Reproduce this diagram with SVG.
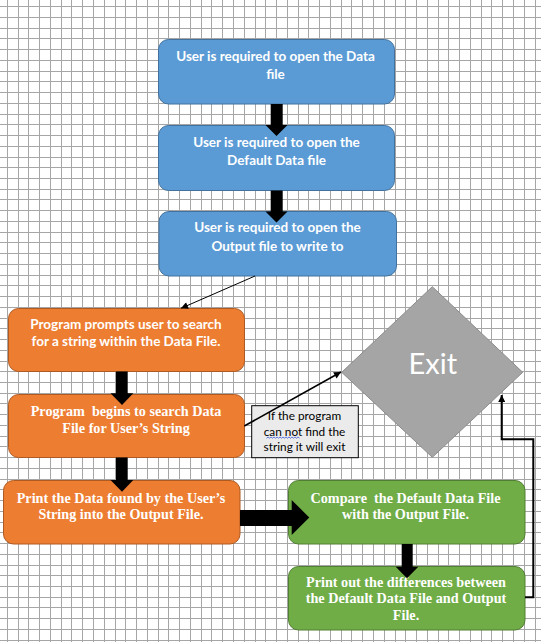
<svg xmlns="http://www.w3.org/2000/svg" width="541" height="642" viewBox="0 0 541 642">
<style>
.grid{stroke:#a6a6a6;stroke-width:1;fill:none;shape-rendering:crispEdges}
.blue{fill:#5b9bd5;stroke:#41719c;stroke-width:1}
.orange{fill:#ed7d31;stroke:#ae5a21;stroke-width:1}
.green{fill:#70ad47;stroke:#507e32;stroke-width:1}
.cal{font-family:Lato,"Liberation Sans",sans-serif;font-weight:bold;fill:#fff;text-anchor:middle;font-size:13.5px}
.tnr{font-family:"Liberation Serif","Times New Roman",serif;font-weight:bold;fill:#fff;text-anchor:middle;font-size:14.2px}
.note{font-family:Lato,"Liberation Sans",sans-serif;fill:#000;text-anchor:middle;font-size:11.8px}
.big{fill:#000;stroke:none}
.thin{stroke:#000;fill:none}
</style>
<defs>
<marker id="ah" viewBox="0 0 10 10" refX="10" refY="5" markerUnits="userSpaceOnUse" markerWidth="9" markerHeight="7" orient="auto">
<path d="M0 0L10 5L0 10z" fill="#000"/>
</marker>
</defs>
<rect width="541" height="642" fill="#fff"/>
<path class="grid" d="M7.3 0V642M18.07 0V642M28.84 0V642M39.61 0V642M50.38 0V642M61.15 0V642M71.92 0V642M82.69 0V642M93.46 0V642M104.23 0V642M115 0V642M125.77 0V642M136.54 0V642M147.31 0V642M158.08 0V642M168.85 0V642M179.62 0V642M190.39 0V642M201.16 0V642M211.93 0V642M222.7 0V642M233.47 0V642M244.24 0V642M255.01 0V642M265.78 0V642M276.55 0V642M287.32 0V642M298.09 0V642M308.86 0V642M319.63 0V642M330.4 0V642M341.17 0V642M351.94 0V642M362.71 0V642M373.48 0V642M384.25 0V642M395.02 0V642M405.79 0V642M416.56 0V642M427.33 0V642M438.1 0V642M448.87 0V642M459.64 0V642M470.41 0V642M481.18 0V642M491.95 0V642M502.72 0V642M513.49 0V642M524.26 0V642M535.03 0V642
M0 6.7H541M0 17.44H541M0 28.17H541M0 38.91H541M0 49.65H541M0 60.39H541M0 71.12H541M0 81.86H541M0 92.6H541M0 103.33H541M0 114.07H541M0 124.81H541M0 135.54H541M0 146.28H541M0 157.02H541M0 167.76H541M0 178.49H541M0 189.23H541M0 199.97H541M0 210.7H541M0 221.44H541M0 232.18H541M0 242.91H541M0 253.65H541M0 264.39H541M0 275.13H541M0 285.86H541M0 296.6H541M0 307.34H541M0 318.07H541M0 328.81H541M0 339.55H541M0 350.28H541M0 361.02H541M0 371.76H541M0 382.5H541M0 393.23H541M0 403.97H541M0 414.71H541M0 425.44H541M0 436.18H541M0 446.92H541M0 457.65H541M0 468.39H541M0 479.13H541M0 489.87H541M0 500.6H541M0 511.34H541M0 522.08H541M0 532.81H541M0 543.55H541M0 554.29H541M0 565.02H541M0 575.76H541M0 586.5H541M0 597.24H541M0 607.97H541M0 618.71H541M0 629.45H541M0 640.18H541"/>

<g id="n1">
<rect class="blue" x="158.5" y="39.5" width="236" height="64.5" rx="10"/>
<text class="cal" x="275.5" y="60.7">User is required to open the Data</text>
<text class="cal" x="275.5" y="79">file</text>
</g>
<g id="n2">
<rect class="blue" x="158.5" y="125.5" width="236" height="65" rx="10"/>
<text class="cal" x="276.5" y="146.7">User is required to open the</text>
<text class="cal" x="276.5" y="165">Default Data file</text>
</g>
<g id="n3">
<rect class="blue" x="159" y="211.5" width="237.5" height="64.5" rx="10"/>
<text class="cal" x="277.5" y="232.3">User is required to open the</text>
<text class="cal" x="277.5" y="251">Output file to write to</text>
</g>
<g id="n4">
<rect class="orange" x="8.5" y="308.5" width="236" height="63" rx="10"/>
<text class="cal" x="126" y="329.3">Program prompts user to search</text>
<text class="cal" x="126" y="346">for a string within the Data File.</text>
</g>
<g id="n5">
<rect class="orange" x="8.5" y="394.5" width="236" height="63" rx="10"/>
<text class="tnr" x="126" y="416" xml:space="preserve">Program  begins to search Data</text>
<text class="tnr" x="126" y="432.7">File for User’s String</text>
</g>
<g id="n6">
<rect class="orange" x="3.5" y="480.5" width="236.5" height="63.5" rx="10"/>
<text class="tnr" x="121" y="502.7">Print the Data found by the User’s</text>
<text class="tnr" x="121" y="519.3">String into the Output File.</text>
</g>
<g id="n7">
<rect class="green" x="288.5" y="480.5" width="236.5" height="63.5" rx="10"/>
<text class="tnr" x="405.5" y="502.7" xml:space="preserve">Compare  the Default Data File</text>
<text class="tnr" x="405.5" y="519.3">with the Output File.</text>
</g>
<g id="n8">
<rect class="green" x="288.5" y="566.5" width="236.5" height="63.5" rx="10"/>
<text class="tnr" x="406" y="586.7">Print out the differences between</text>
<text class="tnr" x="406" y="603.3">the Default Data File and Output</text>
<text class="tnr" x="406" y="620">File.</text>
</g>
<g id="exit">
<path d="M432.3 286.7L522.7 372.3L432.3 457.3L341.7 372.3z" fill="#a5a5a5" stroke="#8c8c8c" stroke-width="1"/>
<text x="432.8" y="374.3" font-family="Lato,'Liberation Sans',sans-serif" font-size="29" fill="#fff" text-anchor="middle">Exit</text>
</g>
<g id="note">
<rect x="251.7" y="405.7" width="106.6" height="52" fill="#ebebeb" stroke="#000" stroke-width="1"/>
<text class="note" x="304.5" y="420">If the program</text>
<text class="note" x="304.5" y="435.7">can not find the</text>
<text class="note" x="304.5" y="450.7">string it will exit</text>
<path d="M266.5 438.2l1.5-1.2l1.5 1.2l1.5-1.2l1.5 1.2l1.5-1.2l1.5 1.2l1.5-1.2l1.5 1.2l1.5-1.2l1.5 1.2l1.5-1.2l1.5 1.2l1.5-1.2l1.5 1.2l1.5-1.2l1.5 1.2l1.5-1.2l1.5 1.2l1.5-1.2l1.5 1.2l1.5-1.2l1.5 1.2" fill="none" stroke="#3b55d6" stroke-width="0.8"/>
</g>
<g id="connectors">
<path class="big" d="M270.7 104H282.7V125H287.5L276.5 136L265.5 125H270.7z"/>
<path class="big" d="M270.7 190.5H282.7V211.5H287.5L276.5 222.5L265.5 211.5H270.7z"/>
<path class="big" d="M116 371.5H127.7V393.3H133.3L122 405L110.5 393.3H116z"/>
<path class="big" d="M116 457.5H127.7V480H133.3L122 491.7L110.5 480H116z"/>
<path class="big" d="M240 510H291.7V500L309.3 517.5L291.7 535V526H240z"/>
<path class="big" d="M401.7 544H412.7V566.7H418.3L407 578.3L395.7 566.7H401.7z"/>
<line class="thin" x1="255" y1="276" x2="181" y2="308.3" stroke-width="1" marker-end="url(#ah)"/>
<line class="thin" x1="244.3" y1="426" x2="341" y2="372" stroke-width="1.6" marker-end="url(#ah)"/>
<path class="thin" d="M525 597.3H533.3V439.3H501.7V395" stroke-width="2" marker-end="url(#ah)"/>
</g>
</svg>
